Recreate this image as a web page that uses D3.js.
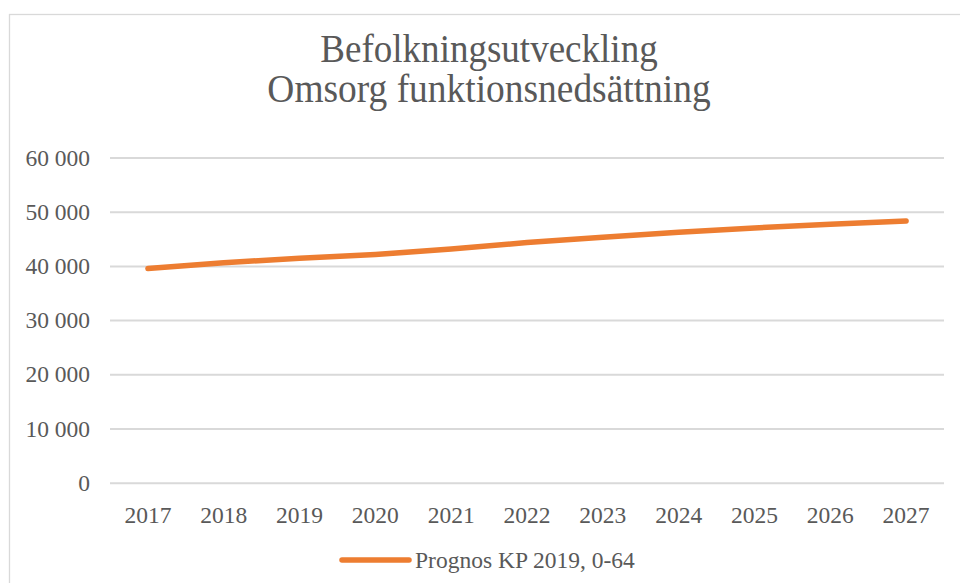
<!DOCTYPE html>
<html>
<head>
<meta charset="utf-8">
<script src="https://cdn.jsdelivr.net/npm/d3@7"></script>
<style>
  body { margin: 0; background: #fff; }
  svg { display: block; }
  text { font-family: "Liberation Serif", "Times New Roman", serif; fill: #595959; }
</style>
</head>
<body>
<div id="chart"></div>
<script>
var years = ['2017', '2018', '2019', '2020', '2021', '2022', '2023', '2024', '2025', '2026', '2027'];
var prognos = [39500, 40600, 41400, 42100, 43100, 44300, 45300, 46200, 47000, 47700, 48300];
var yTicks = [0, 10000, 20000, 30000, 40000, 50000, 60000];
var titleLines = ['Befolkningsutveckling', 'Omsorg funktionsnedsättning'];
var seriesName = 'Prognos KP 2019, 0-64';

var width = 960, height = 583;
var plot = { left: 110, right: 944, top: 157.5, bottom: 482.7 };

var svg = d3.select('#chart').append('svg')
  .attr('width', width)
  .attr('height', height);

// chart area border (runs off the right and bottom of the picture)
svg.append('rect')
  .attr('x', 9.5).attr('y', 14.5)
  .attr('width', 1000).attr('height', 1000)
  .attr('fill', 'none')
  .attr('stroke', '#d9d9d9')
  .attr('stroke-width', 1.3);

var x = d3.scaleBand().domain(years).range([plot.left, plot.right]);
var y = d3.scaleLinear().domain([0, 60000]).range([plot.bottom, plot.top]);

// title, slightly narrowed like the original
svg.append('g').selectAll('text')
  .data(titleLines)
  .enter()
  .append('text')
  .attr('transform', (d, i) => 'translate(489,' + (61.5 + i * 40.8) + ') scale(' + (i ? 0.96 : 0.95) + ',1)')
  .attr('text-anchor', 'middle')
  .attr('font-size', 39)
  .text(d => d);

// gridlines + y labels
var fmt = v => d3.format(',')(v).replace(/,/g, ' ');
var yAxis = d3.axisLeft(y).tickValues(yTicks).tickSize(-(plot.right - plot.left)).tickFormat(fmt).tickPadding(20);
var gy = svg.append('g')
  .attr('transform', 'translate(' + plot.left + ',0)')
  .call(yAxis);
gy.select('.domain').remove();
gy.selectAll('.tick line').attr('stroke', '#d9d9d9').attr('stroke-width', 2);
gy.selectAll('.tick text')
  .attr('font-size', 23.5)
  .attr('fill', '#595959')
  .attr('font-family', '"Liberation Serif", serif')
  .attr('dy', '0.32em');

// x labels
var xAxis = d3.axisBottom(x).tickSize(0).tickPadding(24);
var gx = svg.append('g')
  .attr('transform', 'translate(0,' + plot.bottom + ')')
  .call(xAxis);
gx.select('.domain').remove();
gx.selectAll('.tick text')
  .attr('font-size', 23.5)
  .attr('fill', '#595959')
  .attr('font-family', '"Liberation Serif", serif');

// the series
var line = d3.line()
  .x((d, i) => x(years[i]) + x.bandwidth() / 2)
  .y(d => y(d));

svg.append('path')
  .datum(prognos)
  .attr('d', line)
  .attr('fill', 'none')
  .attr('stroke', '#ed7d31')
  .attr('stroke-width', 5.5)
  .attr('stroke-linecap', 'round')
  .attr('stroke-linejoin', 'round');

// legend
var legend = svg.append('g').attr('transform', 'translate(342,560)');
legend.append('line')
  .attr('x1', 0).attr('x2', 67)
  .attr('y1', 0).attr('y2', 0)
  .attr('stroke', '#ed7d31')
  .attr('stroke-width', 5.5)
  .attr('stroke-linecap', 'round');
legend.append('text')
  .attr('x', 73)
  .attr('y', 7.5)
  .attr('font-size', 23.5)
  .text(seriesName);
</script>
</body>
</html>
